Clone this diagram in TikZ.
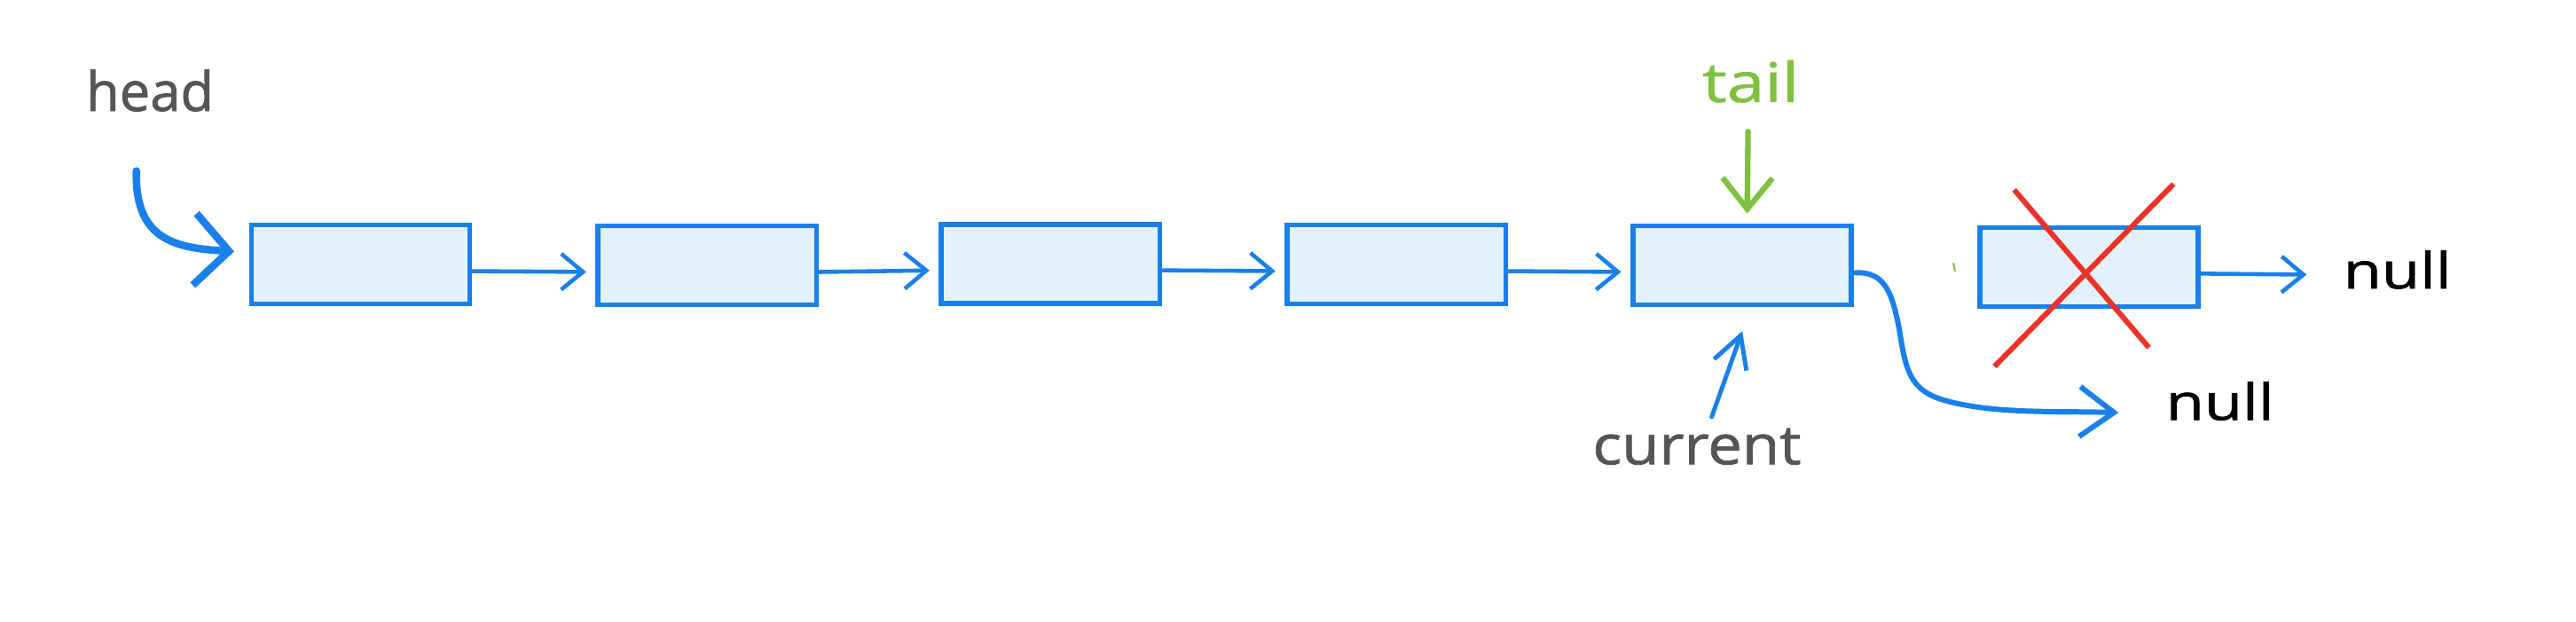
\documentclass[tikz,border=0pt]{standalone}
\usepackage{fontspec}
\setmainfont{Open Sans}
\newfontfamily\hand[FakeBold=1.2]{Open Sans}
\usetikzlibrary{arrows.meta}
\definecolor{eblue}{RGB}{24,127,235}
\definecolor{efill}{RGB}{227,240,253}
\definecolor{egreen}{RGB}{128,192,64}
\definecolor{egray}{RGB}{85,85,85}
\definecolor{ered}{RGB}{236,50,40}
\begin{document}
\begin{tikzpicture}[x=0.01852cm,y=-0.01852cm,
  listbox/.style={draw=eblue,fill=efill,line width=1.6pt,minimum width=2.463cm,minimum height=0.89cm,inner sep=0pt},
  link/.style={draw=eblue,line width=1.3pt,line cap=round,-{Straight Barb[length=7pt,width=11.5pt]}},
  headarr/.style={draw=eblue,line width=2.4pt,line cap=round,line join=round,-{Straight Barb[length=11pt,width=23pt]}},
  tailarr/.style={draw=egreen,line width=1.8pt,line cap=round,-{Straight Barb[length=10pt,width=16pt]}},
  curarr/.style={draw=eblue,line width=1.4pt,line cap=round,-{Straight Barb[length=10pt,width=11pt]}},
  bendarr/.style={draw=eblue,line width=1.7pt,line cap=round,line join=round,-{Straight Barb[length=11pt,width=16pt]}},
  cross/.style={draw=ered,line width=1.7pt},
  lbl/.style={anchor=base west,inner sep=0pt,font=\hand\fontsize{17.5}{20}\selectfont},
  nulllbl/.style={anchor=base west,inner sep=0pt,text=black,font=\hand\fontsize{16}{19}\selectfont\addfontfeature{FakeStretch=1.25}}]
\fill[white] (0,0) rectangle (1568,378);
\useasboundingbox (0,0) rectangle (1568,378);
% list boxes
\node[listbox] (b1) at (219.5,161) {};
\node[listbox] (b2) at (430.5,161.5) {};
\node[listbox] (b3) at (639.5,160.5) {};
\node[listbox] (b4) at (850,161) {};
\node[listbox] (b5) at (1060.5,161.5) {};
\node[listbox] (b6) at (1271.5,162.5) {};
% labels
\node[lbl,text=egray] (head) at (52,67.5) {head};
\node[lbl,text=egreen,font=\hand\fontsize{17.5}{20}\selectfont\addfontfeature{FakeStretch=1.25}] (tail) at (1036,62) {tail};
\node[lbl,text=egray,font=\hand\fontsize{17.5}{20}\selectfont\addfontfeature{FakeStretch=1.12}] (cur) at (969,282.5) {current};
\node[nulllbl] (n1) at (1426,175.5) {null};
\node[nulllbl] (n2) at (1318,255.5) {null};
% links
\draw[link,shorten >=3pt] ([shift={(0,4)}]b1.east) -- ([shift={(0,4)}]b2.west);
\draw[link,shorten >=3pt] ([shift={(0,4)}]b2.east) -- ([shift={(0,4)}]b3.west);
\draw[link,shorten >=3pt] ([shift={(0,4)}]b3.east) -- ([shift={(0,4)}]b4.west);
\draw[link,shorten >=3pt] ([shift={(0,4)}]b4.east) -- ([shift={(0,4)}]b5.west);
\draw[link] ([shift={(0,4)}]b6.east) -- ([shift={(-22,3)}]n1.west);
% head pointer
\coordinate (hs) at (83,104);
\draw[headarr] (hs) .. controls (82,145) and (105,151) .. ([shift={(-9,-8)}]b1.west);
% tail pointer
\coordinate (ts) at (1064,80);
\draw[tailarr] (ts) -- ([shift={(3,-6)}]b5.north);
% current pointer
\draw[curarr] ([shift={(9,-6.5)}]cur.north) -- ([shift={(0,14.5)}]b5.south);
% new next of current
\draw[bendarr] ([shift={(1,4.5)}]b5.east) .. controls (1148,165) and (1152,180) .. (1156,200)
  .. controls (1160,225) and (1162,238) .. (1185,244)
  .. controls (1215,252) and (1250,250) .. ([shift={(-28.5,7)}]n2.west);
% removed node
\draw[cross] (1226,115.5) -- (1308,211.5);
\draw[cross] (1323,112) -- (1214,223);
\draw[egreen,line width=0.6pt] (1189,160) -- (1190,165);
\end{tikzpicture}
\end{document}
